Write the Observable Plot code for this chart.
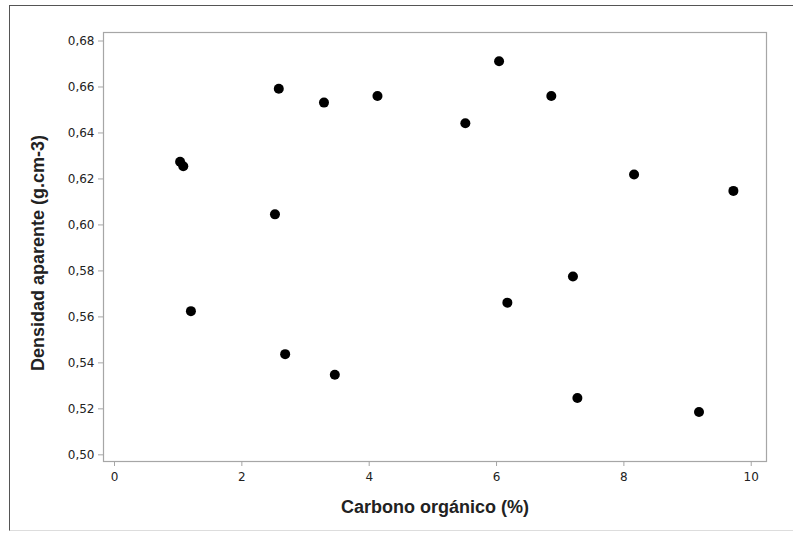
<!DOCTYPE html>
<html>
<head>
<meta charset="utf-8">
<script src="https://cdn.jsdelivr.net/npm/d3@7"></script>
<script src="https://cdn.jsdelivr.net/npm/@observablehq/plot@0.6"></script>
<style>
  html, body { margin: 0; padding: 0; background: #fff; }
  #wrap { position: relative; width: 793px; height: 534px; overflow: hidden; }
  #border { position: absolute; left: 9px; top: 5px; width: 790px; height: 526px;
            border-left: 1px solid #555; border-top: 1px solid #555; border-bottom: 1px solid #ddd; box-sizing: border-box; }
  #chart { position: absolute; left: 0; top: 0; }
</style>
</head>
<body>
<div id="wrap"><div id="border"></div><div id="chart"></div></div>
<script>
const carbono = [1.03, 1.08, 1.20, 2.52, 2.58, 2.68, 3.29, 3.46, 4.13, 5.51, 6.04, 6.17, 6.86, 7.20, 7.27, 8.16, 9.18, 9.72];
const densidad = [0.6275, 0.6255, 0.5625, 0.6046, 0.6592, 0.5438, 0.6532, 0.5348, 0.6561, 0.6442, 0.6712, 0.5662, 0.6561, 0.5776, 0.5247, 0.6219, 0.5186, 0.6148];
const xTicks = [0, 2, 4, 6, 8, 10];
const yTicks = [0.50, 0.52, 0.54, 0.56, 0.58, 0.60, 0.62, 0.64, 0.66, 0.68];
const xTitle = "Carbono orgánico (%)";
const yTitle = "Densidad aparente (g.cm-3)";

const data = carbono.map((c, i) => ({x: c, y: densidad[i]}));
const fmtY = d => d3.format(".2f")(d).replace(".", ",");
const titleFont = "Liberation Sans, Arial, sans-serif";

const plot = Plot.plot({
  width: 793,
  height: 534,
  marginLeft: 103,
  marginRight: 27,
  marginTop: 32,
  marginBottom: 73,
  style: {fontFamily: "DejaVu Sans, Verdana, sans-serif", fontSize: "12px", color: "#222", background: "transparent"},
  x: {domain: [-0.173, 10.24], ticks: xTicks, label: null},
  y: {domain: [0.4971, 0.6837], ticks: yTicks, label: null},
  marks: [
    Plot.frame({stroke: "#a6a6a6", strokeWidth: 1.2}),
    Plot.axisX({ticks: xTicks, tickSize: 5, tickPadding: 6, stroke: "#a6a6a6", label: null, tickFormat: d => String(d), fill: "#222"}),
    Plot.axisY({ticks: yTicks, tickSize: 5, tickPadding: 4, stroke: "#a6a6a6", label: null, tickFormat: fmtY, fill: "#222"}),
    Plot.dot(data, {x: "x", y: "y", r: 5, fill: "#000", stroke: "none"}),
    Plot.text([xTitle], {frameAnchor: "bottom", dy: 46, text: d => d, fontSize: 18, fontWeight: "bold", fontFamily: titleFont, fill: "#222", lineAnchor: "middle"}),
    Plot.text([yTitle], {frameAnchor: "left", dx: -65, dy: 6, rotate: -90, text: d => d, fontSize: 18, fontWeight: "bold", fontFamily: titleFont, fill: "#222", lineAnchor: "middle", textAnchor: "middle"})
  ]
});
document.getElementById("chart").appendChild(plot);
</script>
</body>
</html>
